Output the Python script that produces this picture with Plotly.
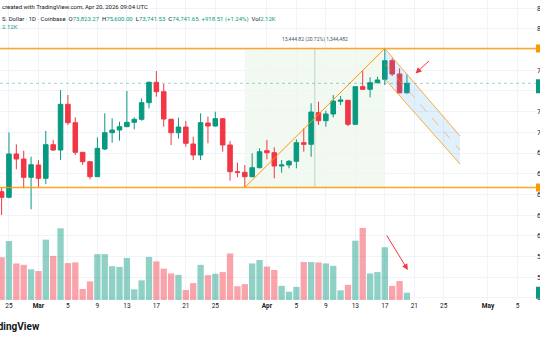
import plotly.graph_objects as go
import pandas as pd

# ---- data ----
dates = pd.date_range("2026-02-24", "2026-04-20", freq="D")

open_ = [64260, 63718, 67905, 67422, 65652, 66842, 65555, 68805, 68292, 72711,
         70932, 68070, 67161, 65710, 68389, 69965, 70226, 70545, 70971, 71261,
         72866, 74839, 73930, 71261, 69965, 70516, 68872, 67809, 70903, 70613,
         71319, 68776, 66194, 66136, 65710, 66580, 68224, 68031, 66745, 66842,
         67199, 68998, 68843, 71899, 71125, 71773, 73001, 73098, 70777, 74413,
         74162, 74800, 75129, 76927, 75641, 73823.27]
high = [64617, 70004, 68843, 68224, 67644, 67325, 70129, 69259, 74094, 73611,
        71454, 68099, 67228, 69520, 71841, 71357, 71029, 73997, 71454, 73291,
        74916, 75931, 74674, 71338, 71415, 71096, 69578, 71841, 71512, 71996,
        71386, 69162, 67064, 66842, 67973, 68456, 69259, 68553, 67325, 67325,
        69327, 70390, 72808, 72963, 72092, 73611, 73514, 73127, 74432, 75960,
        75322, 75380, 78107, 77159, 76192, 75600.00]
low = [62006, 63621, 66426, 64588, 62558, 64743, 65004, 68195, 67325, 70710,
       67809, 66842, 65459, 65681, 68292, 68998, 69191, 70516, 70294, 71125,
       72324, 73446, 70545, 68776, 69385, 68611, 67325, 67325, 68940, 70545,
       68128, 65323, 65652, 64666, 65652, 66522, 67393, 65555, 66097, 66522,
       66522, 68128, 67644, 70710, 70545, 71454, 72644, 70613, 70710, 74094,
       73388, 74742, 74578, 75448, 73775, 73741.53]
close = [63718, 67905, 67422, 65652, 66870, 65555, 68805, 68292, 72711, 70932,
         68070, 67161, 65710, 68456, 69965, 70226, 70545, 70971, 71261, 72866,
         74839, 73930, 71290, 69965, 70516, 68940, 67809, 70932, 70613, 71319,
         68776, 66194, 66136, 65710, 66580, 68128, 68031, 66745, 66842, 67199,
         68998, 68843, 71967, 71125, 71773, 73030, 73127, 70777, 74413, 74162,
         74800, 75061, 76927, 75641, 73823.27, 74741.65]
volume_k = [12.4, 17.1, 10.6, 10.2, 8.9, 8.4, 17.5, 12.8, 20.8, 10.7,
            10.9, 3.2, 5.4, 13.3, 13.3, 9.8, 9.6, 12.2, 3.1, 5.7,
            12.5, 11.2, 9.1, 7.7, 7.3, 2.9, 4.9, 10.2, 7.2, 7.6,
            8.1, 13.5, 4.0, 4.6, 10.6, 11.6, 9.7, 8.7, 4.1, 2.4,
            3.8, 11.0, 11.0, 10.9, 10.6, 9.9, 2.8, 4.4, 17.2, 20.9,
            7.7, 8.1, 15.3, 4.1, 5.5, 2.12]

tick_dates = ["2026-02-25", "2026-03-01", "2026-03-05", "2026-03-09", "2026-03-13",
              "2026-03-17", "2026-03-21", "2026-03-25", "2026-04-01", "2026-04-05",
              "2026-04-09", "2026-04-13", "2026-04-17", "2026-04-21", "2026-04-25",
              "2026-05-01", "2026-05-05"]
tick_text = ["25", "<b>Mar</b>", "5", "9", "13", "17", "21", "25", "<b>Apr</b>", "5",
             "9", "13", "17", "21", "25", "<b>May</b>", "5"]

range_low = 64666
range_high = 78107
range_start = "2026-03-29"
range_end = "2026-04-17"
range_mid = "2026-04-07 12:00"
channel_x = ["2026-04-17", "2026-04-27 04:48"]
channel_upper = [78107, 69646]
channel_lower = [75158, 66938]
channel_mid = [76633, 68292]
last_price = 74741.65

# ---- styling ----
UP = "#089981"
DOWN = "#F23645"
ORANGE = "#FF9800"
GRID = "#F0F3FA"
TXT = "#131722"
FONT = "Roboto"

vol_colors = ["rgba(8,153,129,0.45)" if c >= o else "rgba(242,54,69,0.45)"
              for o, c in zip(open_, close)]

fig = go.Figure()

# descending channel fill
fig.add_trace(go.Scatter(
    x=[channel_x[0], channel_x[1], channel_x[1], channel_x[0], channel_x[0]],
    y=[channel_upper[0], channel_upper[1], channel_lower[1], channel_lower[0], channel_upper[0]],
    fill="toself", fillcolor="rgba(33,150,243,0.14)", line=dict(width=0),
    mode="lines", hoverinfo="skip", showlegend=False))
fig.add_trace(go.Scatter(x=channel_x, y=channel_upper, mode="lines",
                         line=dict(color="rgba(255,152,0,0.8)", width=1), hoverinfo="skip"))
fig.add_trace(go.Scatter(x=channel_x, y=channel_lower, mode="lines",
                         line=dict(color="rgba(255,152,0,0.8)", width=1), hoverinfo="skip"))
fig.add_trace(go.Scatter(x=channel_x, y=channel_mid, mode="lines",
                         line=dict(color="rgba(255,152,0,0.55)", width=1, dash="dash"),
                         hoverinfo="skip"))
# rising trend line
fig.add_trace(go.Scatter(x=[range_start, range_end], y=[range_low, range_high], mode="lines",
                         line=dict(color=ORANGE, width=1), hoverinfo="skip"))

# volume
fig.add_trace(go.Bar(x=dates, y=volume_k, marker=dict(color=vol_colors, line=dict(width=0)),
                     width=0.86 * 86400000, yaxis="y2", hoverinfo="skip"))

# candles
fig.add_trace(go.Candlestick(
    x=dates, open=open_, high=high, low=low, close=close,
    increasing=dict(line=dict(color=UP, width=1), fillcolor=UP),
    decreasing=dict(line=dict(color=DOWN, width=1), fillcolor=DOWN),
    whiskerwidth=0, hoverinfo="skip"))

shapes = [
    # date & price range box
    dict(type="rect", xref="x", yref="y", x0=range_start, x1=range_end,
         y0=range_low, y1=range_high, fillcolor="rgba(76,175,80,0.08)",
         line=dict(width=0), layer="below"),
    dict(type="line", xref="x", yref="y", x0=range_mid, x1=range_mid,
         y0=range_low, y1=range_high, line=dict(color="rgba(110,150,110,0.35)", width=1)),
    # horizontal levels
    dict(type="line", xref="paper", yref="y", x0=0, x1=1, y0=range_high, y1=range_high,
         line=dict(color="rgba(255,152,0,0.85)", width=1.5)),
    dict(type="line", xref="paper", yref="y", x0=0, x1=1, y0=range_low, y1=range_low,
         line=dict(color="rgba(255,152,0,0.85)", width=1.5)),
    # last price dotted line
    dict(type="line", xref="paper", yref="y", x0=0, x1=1, y0=last_price, y1=last_price,
         line=dict(color="rgba(8,153,129,0.4)", width=1, dash="dot")),
    # price scale tags (cut off at the right edge)
    dict(type="rect", xref="paper", yref="y", x0=1.0, x1=1.2, ysizemode="pixel",
         yanchor=range_high, y0=-4, y1=4, fillcolor=ORANGE, line=dict(width=0)),
    dict(type="rect", xref="paper", yref="y", x0=1.0, x1=1.2, ysizemode="pixel",
         yanchor=range_low, y0=-4, y1=4, fillcolor=ORANGE, line=dict(width=0)),
    dict(type="rect", xref="paper", yref="y", x0=1.0, x1=1.2, ysizemode="pixel",
         yanchor=last_price, y0=-10, y1=4, fillcolor=UP, line=dict(width=0)),
    dict(type="rect", xref="paper", yref="y2", x0=1.0, x1=1.2, ysizemode="pixel",
         yanchor=volume_k[-1], y0=-6, y1=6, fillcolor=UP, line=dict(width=0)),
]

def span(t, c):
    return f"<span style='color:{c}'>{t}</span>"

header2 = ("S. Dollar · 1D · Coinbase  O" + span("73,823.27", UP) + "  H" + span("75,600.00", UP)
           + "  L" + span("73,741.53", UP) + "  C" + span("74,741.65", UP) + "  "
           + span("+918.51 (+1.24%)", UP) + "  Vol" + span("2.12K", UP))

annotations = [
    dict(xref="paper", yref="paper", x=0, y=1 - 6.7 / 300, xanchor="left", yanchor="middle",
         text="created with TradingView.com, Apr 20, 2026 09:04 UTC", showarrow=False,
         font=dict(size=6, color=TXT, family=FONT)),
    dict(xref="paper", yref="paper", x=0, y=1 - 19.3 / 300, xanchor="left", yanchor="middle",
         text=header2, showarrow=False, font=dict(size=6, color=TXT, family=FONT)),
    dict(xref="paper", yref="paper", x=0, y=1 - 26.7 / 300, xanchor="left", yanchor="middle",
         text="2.12K", showarrow=False, font=dict(size=6, color=UP, family=FONT)),
    dict(xref="x", yref="paper", x=range_mid, y=1 - 40 / 300, xanchor="center", yanchor="middle",
         text="13,444.82 (20.72%) 1,344,482", showarrow=False,
         font=dict(size=5, color="#50535E", family=FONT)),
    dict(xref="paper", yref="paper", x=42 / 536, y=1 - 326 / 300, xanchor="right", yanchor="middle",
         text="<b>TradingView</b>", showarrow=False, font=dict(size=10, color=TXT, family=FONT)),
    # red arrows
    dict(xref="x", yref="y", x="2026-04-21 04:00", y=75690, ax=15, ay=-14, showarrow=True,
         arrowhead=2, arrowsize=1.2, arrowwidth=1, arrowcolor=DOWN, text=""),
    dict(xref="x", yref="y2", x="2026-04-20 03:00", y=8.7, ax=-22, ay=-36, showarrow=True,
         arrowhead=2, arrowsize=1.2, arrowwidth=1, arrowcolor=DOWN, text=""),
]

fig.update_layout(
    width=540, height=340, margin=dict(l=0, r=4, t=0, b=40),
    paper_bgcolor="white", plot_bgcolor="white", showlegend=False,
    font=dict(family=FONT, color=TXT), boxgap=0.12,
    shapes=shapes, annotations=annotations,
    xaxis=dict(type="date", range=["2026-02-23 18:48", "2026-05-07 12:20"],
               tickvals=tick_dates, ticktext=tick_text, showgrid=True, gridcolor=GRID,
               gridwidth=1, zeroline=False, showline=False, ticks="",
               tickfont=dict(size=6.5, color=TXT), automargin=False,
               rangeslider=dict(visible=False)),
    yaxis=dict(range=[53787, 82797], side="right", dtick=2000, tick0=0, showgrid=True,
               gridcolor=GRID, zeroline=False, showline=False, ticks="",
               tickfont=dict(size=7, color=TXT), automargin=False, fixedrange=True),
    yaxis2=dict(range=[0, 87], overlaying="y", visible=False, fixedrange=True),
)

fig.write_html("out.html")
